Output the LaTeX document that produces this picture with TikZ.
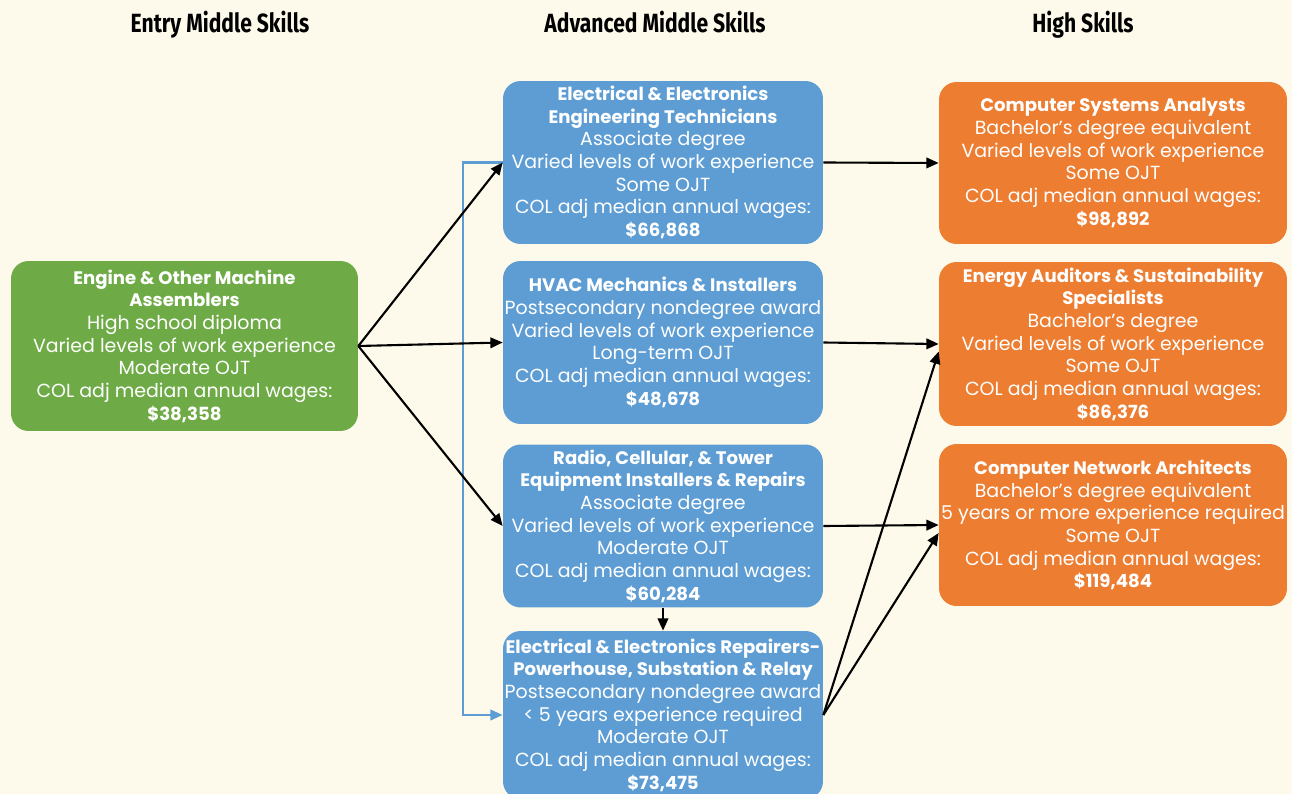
\documentclass[tikz,border=0pt]{standalone}
\usepackage{fontspec}
\setmainfont{Poppins}
\newfontfamily\headfont[FakeStretch=0.8]{Fira Sans}
\usepackage{xcolor}
\definecolor{cream-50}{RGB}{253,250,235}
\definecolor{green-600}{RGB}{110,171,71}
\definecolor{blue-500}{RGB}{93,157,212}
\definecolor{orange-500}{RGB}{237,125,49}
\usetikzlibrary{arrows.meta,positioning}
\newcommand{\boxtitle}[1]{{\fontsize{10.3}{12.9}\selectfont\bfseries #1}}

\begin{document}
\begin{tikzpicture}[
    x=0.02cm, y=-0.02cm,
    skill box/.style={
        rounded corners=10pt,
        fill=#1,
        text=white,
        minimum width=6.4cm,
        minimum height=3.26cm,
        inner sep=0pt,
        font=\fontsize{10.8}{12.9}\selectfont,
        align=center
    },
    wide box/.style={
        minimum width=6.96cm
    },
    col head/.style={anchor=base, font=\headfont\bfseries\fontsize{15}{18}\selectfont},
    arrow/.style={-{Triangle[length=7pt,width=6pt]}, line width=1.2pt, black},
    link arrow/.style={-{Triangle[length=7pt,width=6pt]}, line width=1.3pt, blue-500}
]
\useasboundingbox (0,0) rectangle (1292,794);
\fill[cream-50] (0,0) rectangle (1292,794);

% === COLUMN HEADINGS ===
\node[col head] (head1) at (220,33) {Entry Middle Skills};
\node[col head] (head2) at (655,33) {Advanced Middle Skills};
\node[col head] (head3) at (1083,33) {High Skills};

% === ENTRY ===
\node[skill box=green-600, minimum width=6.94cm, minimum height=3.4cm] (entry) at (184.5,346) {
    \boxtitle{Engine \& Other Machine}\\
    \boxtitle{Assemblers}\\
    High school diploma\\
    Varied levels of work experience\\
    Moderate OJT\\
    COL adj median annual wages:\\
    \boxtitle{\$38,358}
};

% === ADVANCED ===
\node[skill box=blue-500] (adv1) at (663,162.5) {
    \boxtitle{Electrical \& Electronics}\\
    \boxtitle{Engineering Technicians}\\
    Associate degree\\
    Varied levels of work experience\\
    Some OJT\\
    COL adj median annual wages:\\
    \boxtitle{\$66,868}
};

\node[skill box=blue-500] (adv2) at (663,342.5) {
    \boxtitle{HVAC Mechanics \& Installers}\\
    Postsecondary nondegree award\\
    Varied levels of work experience\\
    Long-term OJT\\
    COL adj median annual wages:\\
    \boxtitle{\$48,678}
};

\node[skill box=blue-500] (adv3) at (663,526) {
    \boxtitle{Radio, Cellular, \& Tower}\\
    \boxtitle{Equipment Installers \& Repairs}\\
    Associate degree\\
    Varied levels of work experience\\
    Moderate OJT\\
    COL adj median annual wages:\\
    \boxtitle{\$60,284}
};

\node[skill box=blue-500, minimum height=3.36cm] (adv4) at (663,715) {
    \boxtitle{Electrical \& Electronics Repairers-}\\
    \boxtitle{Powerhouse, Substation \& Relay}\\
    Postsecondary nondegree award\\
    < 5 years experience required\\
    Moderate OJT\\
    COL adj median annual wages:\\
    \boxtitle{\$73,475}
};

% === HIGH ===
\node[skill box=orange-500, wide box, minimum height=3.24cm] (high1) at (1113,163) {
    \boxtitle{Computer Systems Analysts}\\
    Bachelor's degree equivalent\\
    Varied levels of work experience\\
    Some OJT\\
    COL adj median annual wages:\\
    \boxtitle{\$98,892}
};

\node[skill box=orange-500, wide box, minimum height=3.28cm] (high2) at (1113,344) {
    \boxtitle{Energy Auditors \& Sustainability}\\
    \boxtitle{Specialists}\\
    Bachelor's degree\\
    Varied levels of work experience\\
    Some OJT\\
    COL adj median annual wages:\\
    \boxtitle{\$86,376}
};

\node[skill box=orange-500, wide box, minimum height=3.24cm] (high3) at (1113,525) {
    \boxtitle{Computer Network Architects}\\
    Bachelor's degree equivalent\\
    5 years or more experience required\\
    Some OJT\\
    COL adj median annual wages:\\
    \boxtitle{\$119,484}
};

% === ARROWS ===
% blue link down the left side of the advanced column
\draw[link arrow] (adv1.west) -- ++(-40,0) |- (adv4.west);

% entry to advanced
\draw[arrow] (entry.east) -- (adv1.west);
\draw[arrow] (entry.east) -- (adv2.west);
\draw[arrow] (entry.east) -- (adv3.west);

% advanced to high
\draw[arrow] (adv1.east) -- (high1.west);
\draw[arrow] (adv2.east) -- (high2.west);
\draw[arrow] (adv3.east) -- (high3.west);
\draw[arrow] (adv3.south) -- (adv4.north);
\draw[arrow] (adv4.east) -- ([yshift=-0.15cm]high2.west);
\draw[arrow] (adv4.east) -- ([yshift=-0.16cm]high3.west);

\end{tikzpicture}
\end{document}
